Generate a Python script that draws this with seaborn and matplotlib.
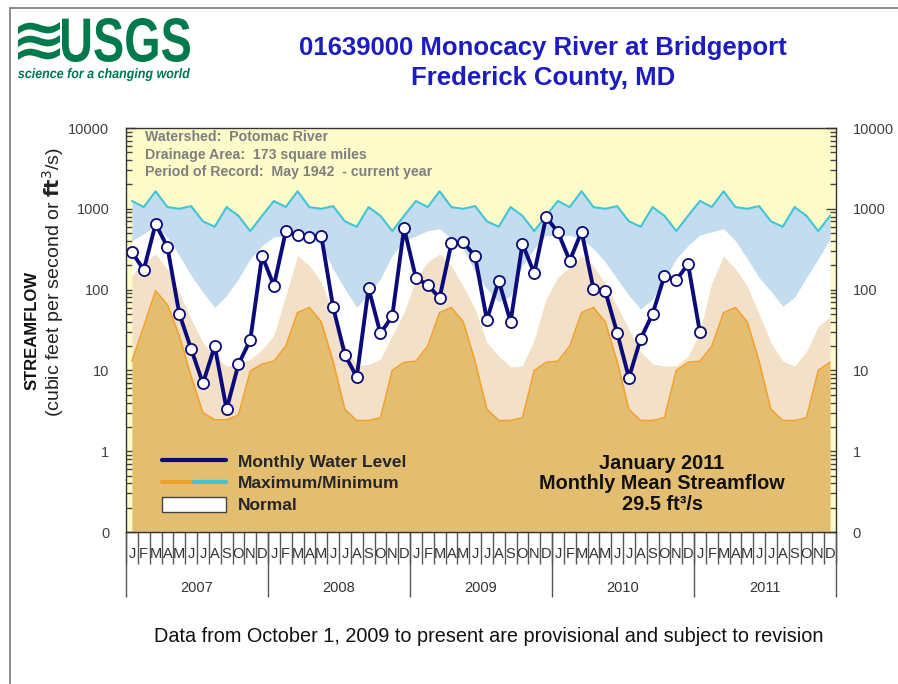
import numpy as np
import pandas as pd
import matplotlib
matplotlib.use("Agg")
import matplotlib.pyplot as plt
import seaborn as sns
from matplotlib.lines import Line2D
from matplotlib.patches import Patch, PathPatch
from matplotlib.legend_handler import HandlerTuple
from matplotlib.ticker import LogLocator, NullFormatter
from matplotlib.textpath import TextPath
from matplotlib.font_manager import FontProperties
from matplotlib.transforms import Affine2D

# --- data (cfs) ---
years = [2007, 2008, 2009, 2010, 2011]
month_letters = ["J", "F", "M", "A", "M", "J", "J", "A", "S", "O", "N", "D"]

flow_2007 = [292, 175, 651, 337, 50.5, 18.5, 6.9, 20, 3.3, 11.9, 23.7, 262]
flow_2008 = [112, 525, 470, 443, 466, 61, 15.6, 8.3, 104, 28.7, 47, 576]
flow_2009 = [139, 114, 79, 375, 386, 258, 42, 129, 40, 367, 160, 789]
flow_2010 = [514, 228, 523, 103, 96, 29.4, 8.1, 24.8, 50, 148, 131, 207]
flow_2011 = [29.5]

# maximum of record for each calendar month
max_by_month = [1250, 1050, 1650, 1050, 1000, 1080, 700, 600, 1050, 820, 530, 820]

# upper edge of normal (75th percentile)
upper_2007 = [405, 489, 621, 445, 263, 149, 92, 60, 84, 135, 239, 351]
upper_2008 = [445, 467, 513, 445, 351, 180, 101, 60, 88, 135, 263, 405]
upper_2009 = [462, 533, 565, 424, 318, 165, 101, 70, 83, 198, 319, 467]
upper_2010 = [467, 467, 424, 319, 219, 135, 84, 57, 76, 135, 239, 350]
upper_2011 = [470, 517, 565, 400, 240, 140, 95, 62, 80, 140, 239, 420]

# lower edge of normal (25th percentile)
lower_2007 = [149, 217, 276, 180, 92, 43, 22, 15, 11.3, 11.9, 13.7, 18]
lower_2008 = [27, 84, 263, 198, 123, 52, 20, 11.3, 11.9, 13.7, 27, 52]
lower_2009 = [134, 220, 275, 196, 110, 57, 22, 15, 11, 11.3, 24, 76]
lower_2010 = [142, 190, 260, 196, 117, 62, 32, 17, 12, 11.3, 11.3, 15]
lower_2011 = [30, 120, 260, 180, 110, 50, 22, 13, 11.3, 17, 35, 46]

# minimum of record
min_2007 = [13, 35, 97, 65, 27, 8.5, 3, 2.45, 2.45, 2.8, 9.8, 12]
min_by_month = [13, 20, 52, 60, 40, 13, 3.3, 2.4, 2.4, 2.6, 10, 12.6]

flow = flow_2007 + flow_2008 + flow_2009 + flow_2010 + flow_2011
df = pd.DataFrame({"month": np.arange(len(flow)) + 0.5, "flow": flow})

band_x = np.arange(len(years) * 12) + 0.5
band_max = np.tile(max_by_month, len(years))
band_upper = np.concatenate([upper_2007, upper_2008, upper_2009, upper_2010, upper_2011])
band_lower = np.concatenate([lower_2007, lower_2008, lower_2009, lower_2010, lower_2011])
band_min = np.concatenate([min_2007] + [min_by_month] * 4)

# --- style ---
sns.set_style("white")
plt.rcParams["font.family"] = ["Liberation Sans", "DejaVu Sans"]

navy = "#0b0b7a"
cyan = "#3fc6d6"
orange = "#f2a02a"
blue = "#c3dcef"
tan_light = "#f3e0c8"
tan_dark = "#e3bd70"
yellow = "#fdfcc9"
green = "#007a4d"
W, H = 898, 684

fig = plt.figure(figsize=(W / 100, H / 100), dpi=100)
ax = fig.add_axes([126 / W, 1 - 532 / H, 710 / W, 404 / H])
ax.set_facecolor(yellow)

ax.fill_between(band_x, band_upper, band_max, color=blue, lw=0)
ax.fill_between(band_x, band_lower, band_upper, color="white", lw=0)
ax.fill_between(band_x, band_min, band_lower, color=tan_light, lw=0)
ax.fill_between(band_x, 0.1, band_min, color=tan_dark, lw=0)
ax.plot(band_x, band_max, color=cyan, lw=1.5)
ax.plot(band_x, band_min, color=orange, lw=1.1)

sns.lineplot(data=df, x="month", y="flow", ax=ax, color=navy, lw=2.8,
             marker="o", markersize=8, markerfacecolor="white",
             markeredgecolor=navy, markeredgewidth=1.3, sort=False)

ax.set_yscale("log")
ax.set_ylim(0.1, 10000)
ax.set_xlim(0, 60)
ax.set_xlabel("")
ax.set_ylabel("")

# y axis, both sides
ax.set_yticks([0.1, 1, 10, 100, 1000, 10000],
              labels=["0", "1", "10", "100", "1000", "10000"])
ax.yaxis.set_minor_locator(LogLocator(base=10, subs=np.arange(2, 10), numticks=20))
ax.yaxis.set_minor_formatter(NullFormatter())
ax.tick_params(axis="y", which="both", direction="in", left=True, right=True,
               labelleft=True, labelright=True, color="#444", width=1)
ax.tick_params(axis="y", which="major", length=7, pad=12, labelsize=10.5,
               labelcolor="#404040")
ax.tick_params(axis="y", which="minor", length=4)

# months
ax.set_xticks(np.arange(61), labels=[""] * 61)
ax.set_xticks(band_x, labels=month_letters * len(years), minor=True)
ax.tick_params(axis="x", which="major", direction="out", length=23, width=1,
               color="#555", bottom=True)
ax.tick_params(axis="x", which="minor", length=0, pad=11, labelsize=10.5,
               labelcolor="#333")

# years
sec = ax.secondary_xaxis("bottom")
sec.set_xticks(np.arange(0, 61, 12), labels=[""] * 6)
sec.set_xticks(np.arange(6, 60, 12), labels=[str(y) for y in years], minor=True)
sec.tick_params(which="major", direction="out", length=47, width=1, color="#555")
sec.tick_params(which="minor", length=0, pad=35, labelsize=10.5, labelcolor="#333")

for s in ax.spines.values():
    s.set_color("#333")
    s.set_linewidth(1)

# texts inside the plot
ax.text(0.027, 0.995,
        "Watershed:  Potomac River\nDrainage Area:  173 square miles\n"
        "Period of Record:  May 1942  - current year",
        transform=ax.transAxes, ha="left", va="top", fontsize=10.2, fontweight="bold",
        color="#7f7f7f", linespacing=1.33)

ax.text(0.755, 0.119, "January 2011\nMonthly Mean Streamflow\n29.5 ft³/s",
        transform=ax.transAxes, ha="center", va="center", fontsize=14.3,
        fontweight="bold", color="#111", linespacing=1.1)

handles = [Line2D([], [], color=navy, lw=3),
           (Line2D([], [], color=orange, lw=3), Line2D([], [], color=cyan, lw=3)),
           Patch(facecolor="white", edgecolor="#444", lw=1)]
ax.legend(handles, ["Monthly Water Level", "Maximum/Minimum", "Normal"],
          handler_map={tuple: HandlerTuple(ndivide=None, pad=0)},
          loc="upper left", bbox_to_anchor=(0.05, 0.196), frameon=False,
          borderpad=0, borderaxespad=0, handlelength=3.7, handleheight=1.0,
          handletextpad=0.7, labelspacing=0.3,
          prop={"size": 12.5, "weight": "bold"})

# titles and labels
fig.text(543 / W, 1 - 48 / H, "01639000 Monocacy River at Bridgeport",
         ha="center", va="center", fontsize=18.5, fontweight="bold", color="#1c1cc0")
fig.text(543 / W, 1 - 78 / H, "Frederick County, MD",
         ha="center", va="center", fontsize=18.5, fontweight="bold", color="#1c1cc0")
fig.text(32 / W, 1 - 330 / H, "STREAMFLOW", rotation=90, ha="center", va="center",
         fontsize=12, fontweight="bold", color="#111")
fig.text(53 / W, 1 - 282 / H, r"(cubic feet per second or $\mathbf{ft}^3$/s)",
         rotation=90, ha="center", va="center", fontsize=14, color="#222")
fig.text(489 / W, 1 - 636 / H,
         "Data from October 1, 2009 to present are provisional and subject to revision",
         ha="center", va="center", fontsize=14.3, color="#111")


# USGS logo drawn from text outlines, fitted into pixel boxes
def fitted_text(s, x0, y0, x1, y1, prop):
    tp = TextPath((0, 0), s, size=1, prop=prop)
    bb = tp.get_extents()
    tr = (Affine2D().translate(-bb.x0, -bb.y0)
          .scale((x1 - x0) / bb.width, (y1 - y0) / bb.height)
          .translate(x0, H - y1).scale(1 / W, 1 / H))
    fig.patches.append(PathPatch(tr.transform_path(tp), facecolor=green, lw=0,
                                 transform=fig.transFigure))


fitted_text("USGS", 62, 18, 190, 62, FontProperties(family="Liberation Sans", weight="bold"))
fitted_text("≋", 18, 22, 60, 60, FontProperties(family="DejaVu Sans", weight="bold"))
fitted_text("science for a changing world", 18, 68, 190, 81,
            FontProperties(family="Liberation Sans", weight="bold", style="italic"))

# page frame
fig.add_artist(Line2D([10 / W, 10 / W], [0, 1 - 8 / H], color="#777", lw=1.2))
fig.add_artist(Line2D([10 / W, 1], [1 - 8 / H, 1 - 8 / H], color="#777", lw=1.2))

fig.savefig("out.png", dpi=100)
